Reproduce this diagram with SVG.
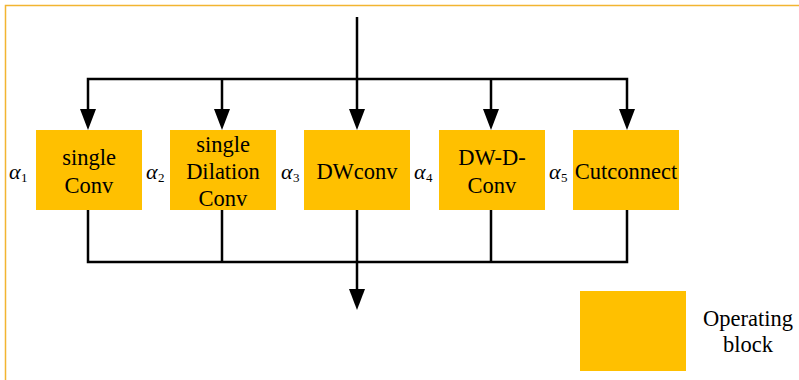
<svg xmlns="http://www.w3.org/2000/svg" width="799" height="380" viewBox="0 0 799 380">
<style>
.blk{fill:#FFC000;}
.t{font-family:"Liberation Serif","Times New Roman",serif;font-size:22.5px;fill:#000;text-anchor:middle;}
.a{font-family:"Liberation Serif","Times New Roman",serif;font-size:22px;font-style:italic;fill:#000;}
.s{font-family:"Liberation Serif","Times New Roman",serif;font-size:13px;fill:#000;}
.ln{stroke:#000;stroke-width:2.5;fill:none;}
</style>
<rect width="799" height="380" fill="#fff"/>
<path d="M5.5,380 V5.5 H799" stroke="#F2B531" stroke-width="1.5" fill="none"/>
<g id="connectors">
<path class="ln" d="M357,17 V79"/>
<path class="ln" d="M88,110 V79 H627 V110"/>
<path d="M88,130 l-8,-21 h16 z M222,130 l-8,-21 h16 z M357,130 l-8,-21 h16 z M491,130 l-8,-21 h16 z M627,130 l-8,-21 h16 z" fill="#000"/>
<path class="ln" d="M222,79 V110 M357,79 V110 M491,79 V110"/>
<path class="ln" d="M88,210 V262 H627 V210 M222,210 V262 M491,210 V262 M357,210 V292"/>
<path d="M357,310 l-8,-21 h16 z" fill="#000"/>
</g>
<g id="n1">
<rect class="blk" x="36" y="130" width="106" height="80"/>
<text class="t" x="89" y="165">single</text>
<text class="t" x="89" y="193">Conv</text>
<text class="a" x="9" y="179">α</text><text class="s" x="21" y="182">1</text>
</g>
<g id="n2">
<rect class="blk" x="170" y="130" width="106" height="80"/>
<text class="t" x="223" y="152">single</text>
<text class="t" x="223" y="179">Dilation</text>
<text class="t" x="223" y="206">Conv</text>
<text class="a" x="146" y="179">α</text><text class="s" x="158" y="182">2</text>
</g>
<g id="n3">
<rect class="blk" x="304" y="130" width="106" height="80"/>
<text class="t" x="357" y="179">DWconv</text>
<text class="a" x="281" y="179">α</text><text class="s" x="293" y="182">3</text>
</g>
<g id="n4">
<rect class="blk" x="439" y="130" width="106" height="80"/>
<text class="t" x="492" y="165">DW-D-</text>
<text class="t" x="492" y="193">Conv</text>
<text class="a" x="414" y="179">α</text><text class="s" x="426" y="182">4</text>
</g>
<g id="n5">
<rect class="blk" x="573" y="130" width="106" height="80"/>
<text class="t" x="626" y="179">Cutconnect</text>
<text class="a" x="549" y="179">α</text><text class="s" x="561" y="182">5</text>
</g>
<g id="legend">
<rect class="blk" x="580" y="291" width="106" height="80"/>
<text class="t" x="748" y="326">Operating</text>
<text class="t" x="748" y="352">block</text>
</g>
</svg>
